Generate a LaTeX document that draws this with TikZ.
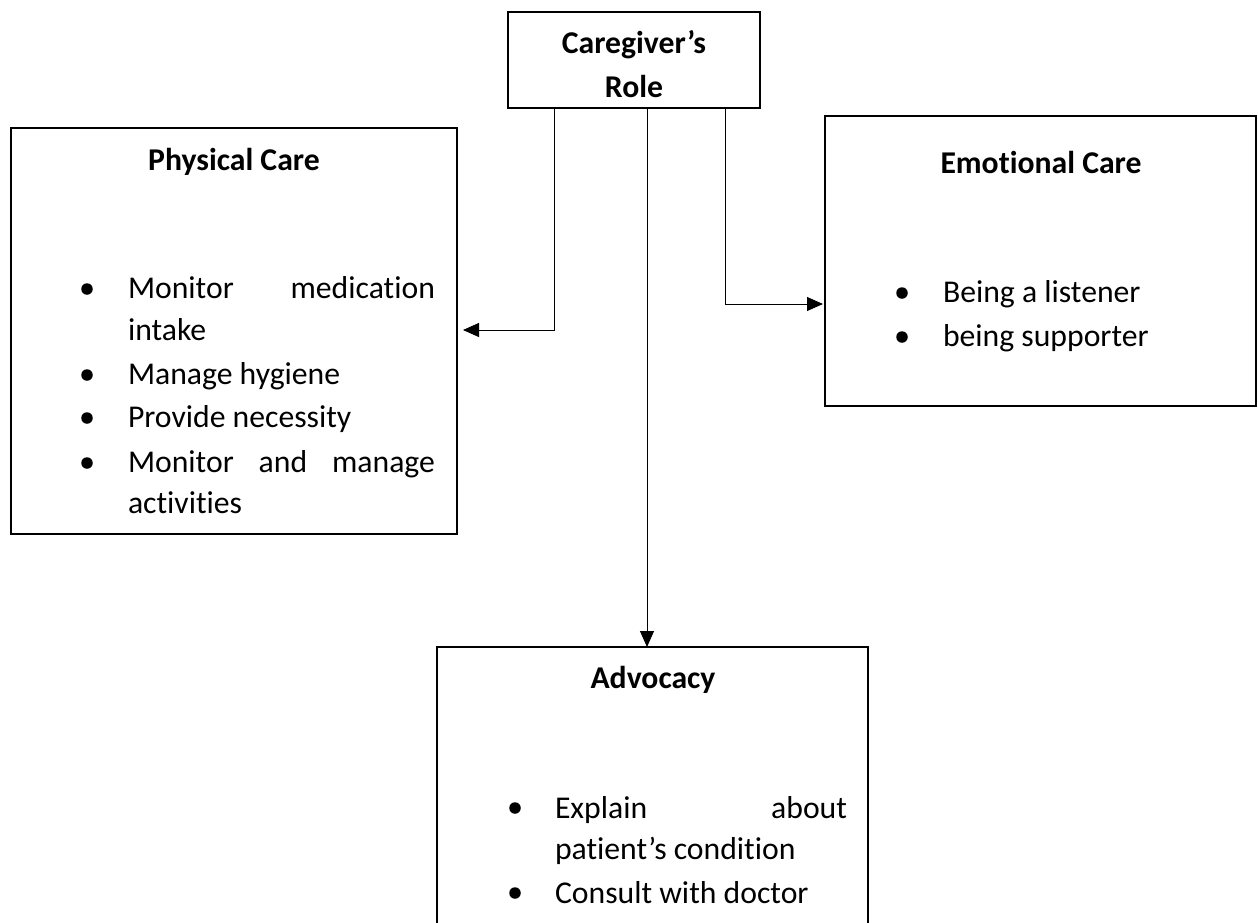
\documentclass[tikz,border=0pt]{standalone}
\usepackage{fontspec}
\setmainfont[Ligatures=NoCommon]{Carlito}
\usetikzlibrary{arrows.meta,calc}
\tikzset{
  box/.style={draw=black, line width=2pt, inner sep=0pt, outer sep=0pt, anchor=north west},
  conn/.style={draw=black, line width=0.9pt, -{Triangle[length=16pt,width=14pt]}},
  txt/.style={inner sep=0pt, outer sep=0pt, anchor=base west, font=\fontsize{31.7}{43}\selectfont},
  ttl/.style={inner sep=0pt, outer sep=0pt, anchor=base, font=\fontsize{31.7}{43}\selectfont\bfseries},
  bul/.style={circle, fill=black, inner sep=0pt, minimum size=11.5pt}
}
\begin{document}
\begin{tikzpicture}[x=1pt,y=-1pt]
\useasboundingbox (0,0) rectangle (1258,922);
\clip (0,0) rectangle (1258,922);

% boxes
\node[box, minimum width=252pt, minimum height=96pt] (care) at (508,12) {};
\node[box, minimum width=446pt, minimum height=406pt] (phys) at (11,128) {};
\node[box, minimum width=431pt, minimum height=290pt] (emo) at (825,116) {};
\node[box, minimum width=431pt, minimum height=330pt] (adv) at (437,647) {};

% caregiver text
\node[ttl] (careA) at (634,53) {Caregiver’s};
\node[ttl] (careB) at (634,97) {Role};

% physical care
\node[ttl] (physT) at (234,170) {Physical Care};
\node[bul] (pb1) at (87,289) {};
\node[txt] (p1) at (128,298) {\makebox[307pt][s]{Monitor medication}};
\node[txt] (p2) at (128,340) {intake};
\node[bul] (pb2) at (87,375) {};
\node[txt] (p3) at (128,384) {Manage hygiene};
\node[bul] (pb3) at (87,418) {};
\node[txt] (p4) at (128,427) {Provide necessity};
\node[bul] (pb4) at (87,463) {};
\node[txt] (p5) at (128,472) {\makebox[307pt][s]{Monitor and manage}};
\node[txt] (p6) at (128,513) {activities};

% emotional care
\node[ttl] (emoT) at (1041,173) {Emotional Care};
\node[bul] (eb1) at (902,293) {};
\node[txt] (e1) at (943,302) {Being a listener};
\node[bul] (eb2) at (902,337) {};
\node[txt] (e2) at (943,346) {being supporter};

% advocacy
\node[ttl] (advT) at (653,688) {Advocacy};
\node[bul] (ab1) at (515,808) {};
\node[txt] (a1) at (555,818) {\makebox[292pt][s]{Explain about}};
\node[txt] (a2) at (555,859) {patient’s condition};
\node[bul] (ab2) at (515,893) {};
\node[txt] (a3) at (555,903) {Consult with doctor};

% elbow levels
\coordinate (lk) at (0,330);
\coordinate (rk) at (0,304);

% connectors
\draw[conn] ([xshift=46pt]care.south west) |- ([xshift=6pt]phys.east |- lk);
\draw[conn] ([xshift=217pt]care.south west) |- ([xshift=-2pt]emo.west |- rk);
\draw[conn] ([xshift=139pt]care.south west) -- ([xshift=139pt]care.south west |- adv.north);
\end{tikzpicture}
\end{document}
